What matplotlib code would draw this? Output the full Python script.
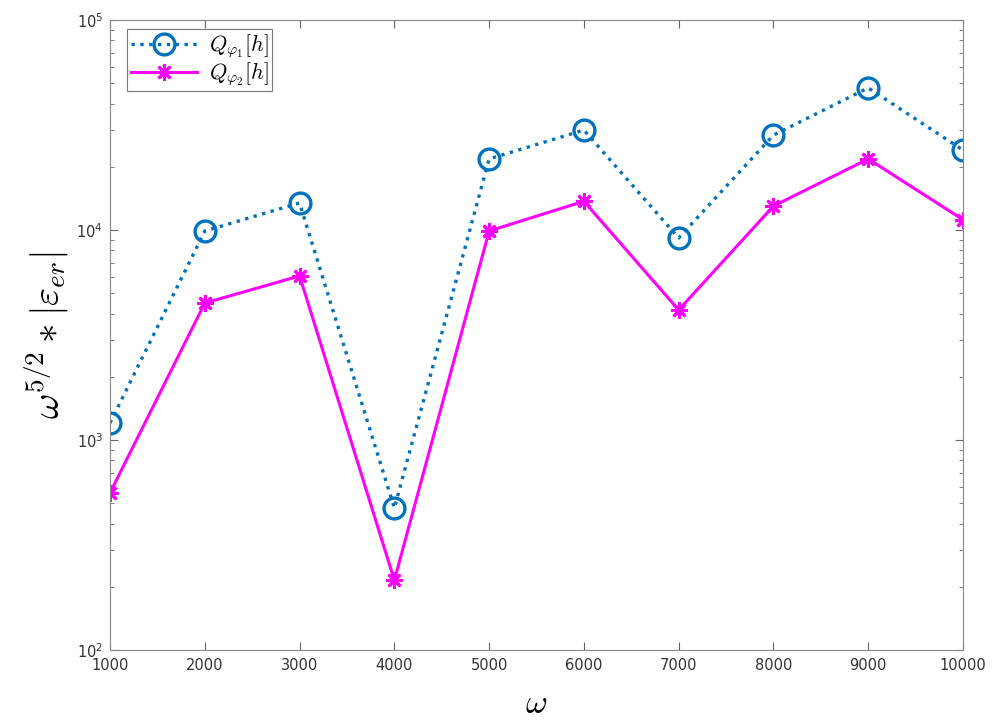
import matplotlib
matplotlib.use("Agg")
import matplotlib.pyplot as plt
from matplotlib.ticker import LogLocator, NullFormatter

plt.rcParams['mathtext.fontset'] = 'cm'

omega = [1000, 2000, 3000, 4000, 5000, 6000, 7000, 8000, 9000, 10000]
q_phi1 = [1205, 9890, 13450, 474, 21800, 29900, 9160, 28300, 47500, 24000]
q_phi2 = [560, 4490, 6040, 215, 9890, 13700, 4160, 13000, 21800, 11200]
xticks = [1000, 2000, 3000, 4000, 5000, 6000, 7000, 8000, 9000, 10000]

fig = plt.figure(figsize=(9.94, 7.24), dpi=100)
ax = fig.add_axes([0.1107, 0.1022, 0.8581, 0.8702])

ax.plot(omega, q_phi1, linestyle=':', color='#0072BD', linewidth=2.4,
        marker='o', markersize=15, markerfacecolor='none', markeredgewidth=2.4,
        label=r'$Q_{\varphi_1}[h]$')
ax.plot(omega, q_phi2, linestyle='-', color='#FF00FF', linewidth=2.2,
        marker=(8, 2, 0), markersize=12, markeredgewidth=2.0,
        label=r'$Q_{\varphi_2}[h]$')

ax.set_yscale('log')
ax.set_ylim(1e2, 1e5)
ax.set_xlim(1000, 10000)
ax.set_xticks(xticks)
ax.set_xticklabels([str(v) for v in xticks])
ax.yaxis.set_minor_locator(LogLocator(base=10, subs=range(2, 10)))
ax.yaxis.set_minor_formatter(NullFormatter())

ax.tick_params(axis='both', which='both', direction='in', top=True, right=True,
               labelsize=10.5, labelcolor='#333333', color='#666666')
ax.tick_params(axis='x', pad=6)
ax.tick_params(axis='y', pad=5)
ax.tick_params(which='major', length=6)
ax.tick_params(which='minor', length=3)
for s in ax.spines.values():
    s.set_color('#888888')
    s.set_linewidth(0.8)

ax.set_xlabel(r'$\omega$', fontsize=24, labelpad=10)
ax.set_ylabel(r'$\omega^{5/2} * |\varepsilon_{er}|$', fontsize=28, labelpad=4)

leg = ax.legend(loc='upper left', fontsize=16, frameon=True, fancybox=False,
                edgecolor='#555555', borderpad=0.15, handlelength=3.0,
                labelspacing=0.0, borderaxespad=0.4, handletextpad=0.5,
                bbox_to_anchor=(0.01, 1.0))
leg.get_frame().set_linewidth(0.8)

fig.savefig('out.png', dpi=100)
